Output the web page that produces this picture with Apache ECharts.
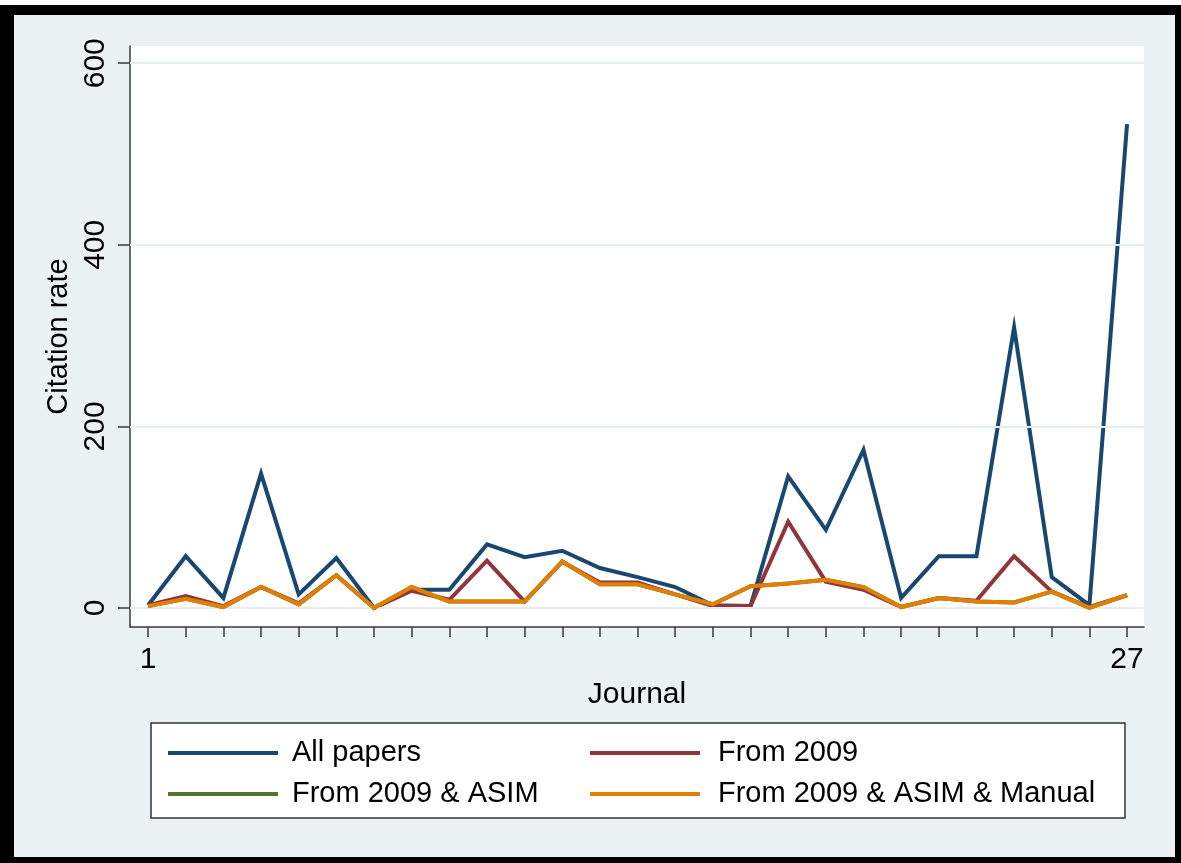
<!DOCTYPE html>
<html>
<head>
<meta charset="utf-8">
<script src="https://cdn.jsdelivr.net/npm/echarts@6/dist/echarts.min.js"></script>
<style>
  html, body { margin: 0; padding: 0; background: #ffffff; }
  #chart { width: 1181px; height: 863px; }
</style>
</head>
<body>
<div id="chart"></div>
<script>
// Journals 1..27 along the horizontal axis
const journals = [1, 2, 3, 4, 5, 6, 7, 8, 9, 10, 11, 12, 13, 14, 15, 16, 17, 18, 19, 20, 21, 22, 23, 24, 25, 26, 27];

// Citation rate per journal for each selection of papers
const allPapers         = [3, 57, 11, 148, 15, 55, 0, 20, 20, 70, 56, 63, 44, 34, 23, 3, 2, 145, 86, 174, 11, 57, 57, 309, 34, 3, 533];
const from2009          = [3, 13, 2, 23, 5, 36, 0, 19, 9, 52, 7, 51, 28, 28, 15, 2, 2, 95, 29, 20, 1, 11, 8, 57, 18, 1, 14];
const from2009Asim      = [2, 10, 1, 23, 4, 36, 0, 23, 7, 7, 7, 51, 26, 26, 15, 4, 24, 27, 31, 23, 1, 11, 7, 6, 18, 0, 14];
const from2009AsimMan   = [2, 10, 1, 23, 4, 36, 0, 23, 7, 7, 7, 51, 26, 26, 15, 4, 24, 27, 31, 23, 1, 11, 7, 6, 18, 0, 14];

// Axis tick labels
const yTicks = [0, 200, 400, 600];
const xTickLabels = [1, 27];

const seriesNames = ['All papers', 'From 2009', 'From 2009 & ASIM', 'From 2009 & ASIM & Manual'];
const seriesValues = [allPapers, from2009, from2009Asim, from2009AsimMan];
const seriesColors = ['#1a476f', '#90353b', '#55752f', '#e37e00'];

const FONT = 'Liberation Sans, Arial, sans-serif';
const AXIS_COLOR = '#3a3a3a';

const chart = echarts.init(document.getElementById('chart'), null, { renderer: 'canvas' });

const lineSeries = seriesNames.map((name, i) => ({
  name: name,
  type: 'line',
  data: journals.map((j, k) => [j, seriesValues[i][k]]),
  showSymbol: false,
  symbol: 'none',
  z: 3 + i,
  lineStyle: { color: seriesColors[i], width: 4, join: 'miter' },
  itemStyle: { color: seriesColors[i] },
  emphasis: { disabled: true },
  animation: false
}));

// Horizontal grid lines at the labelled values
const gridLines = {
  name: 'gridlines',
  type: 'line',
  data: [],
  z: 1,
  silent: true,
  animation: false,
  markLine: {
    silent: true,
    symbol: 'none',
    animation: false,
    label: { show: false },
    lineStyle: { color: '#e4edef', width: 2, type: 'solid' },
    data: yTicks.map(v => ({ yAxis: v }))
  }
};

function legendColumn(left, names, textPad) {
  return {
    orient: 'vertical',
    left: left,
    top: 733,
    data: names,
    icon: 'rect',
    itemWidth: 110,
    itemHeight: 4,
    itemGap: 11,
    selectedMode: false,
    textStyle: { fontSize: 29, color: '#000', fontFamily: FONT, lineHeight: 30, padding: [0, 0, 0, textPad] }
  };
}

chart.setOption({
  backgroundColor: '#eaf2f3',
  animation: false,
  grid: {
    left: 130, right: 37, top: 46, bottom: 236,
    show: true, backgroundColor: '#ffffff', borderWidth: 0
  },
  xAxis: {
    type: 'value',
    min: 0.52, max: 27.45,
    name: 'Journal',
    nameLocation: 'middle',
    nameGap: 49,
    nameTextStyle: { fontSize: 30, color: '#000', fontFamily: FONT },
    axisLine: { show: true, onZero: false, lineStyle: { color: AXIS_COLOR, width: 1.5 } },
    axisTick: { show: true, length: 10, customValues: journals, lineStyle: { color: AXIS_COLOR, width: 1.5 } },
    axisLabel: { customValues: xTickLabels, fontSize: 30, color: '#000', fontFamily: FONT, margin: 18 },
    splitLine: { show: false }
  },
  yAxis: {
    type: 'value',
    min: -21, max: 619,
    name: 'Citation rate',
    nameLocation: 'middle',
    nameGap: 54,
    nameTextStyle: { fontSize: 29, color: '#000', fontFamily: FONT },
    axisLine: { show: true, lineStyle: { color: AXIS_COLOR, width: 1.5 } },
    axisTick: { show: true, length: 12, customValues: yTicks, lineStyle: { color: AXIS_COLOR, width: 1.5 } },
    axisLabel: { customValues: yTicks, rotate: 90, fontSize: 30, color: '#000', fontFamily: FONT, margin: 19 },
    splitLine: { show: false }
  },
  legend: [
    legendColumn(163, ['All papers', 'From 2009 & ASIM'], 9),
    legendColumn(585, ['From 2009', 'From 2009 & ASIM & Manual'], 13)
  ],
  graphic: [
    // legend frame
    { type: 'rect', z: -1, silent: true, shape: { x: 151, y: 723, width: 974, height: 95 },
      style: { fill: '#ffffff', stroke: '#333333', lineWidth: 1.5 } },
    // outer black frame
    { type: 'rect', silent: true, shape: { x: 0, y: 0, width: 1181, height: 5 }, style: { fill: '#ffffff' } },
    { type: 'rect', silent: true, shape: { x: 0, y: 5, width: 1181, height: 10 }, style: { fill: '#000000' } },
    { type: 'rect', silent: true, shape: { x: 0, y: 5, width: 14, height: 858 }, style: { fill: '#000000' } },
    { type: 'rect', silent: true, shape: { x: 1175, y: 5, width: 6, height: 858 }, style: { fill: '#000000' } },
    { type: 'rect', silent: true, shape: { x: 0, y: 857, width: 1181, height: 6 }, style: { fill: '#000000' } }
  ],
  series: [gridLines].concat(lineSeries)
});
</script>
</body>
</html>
